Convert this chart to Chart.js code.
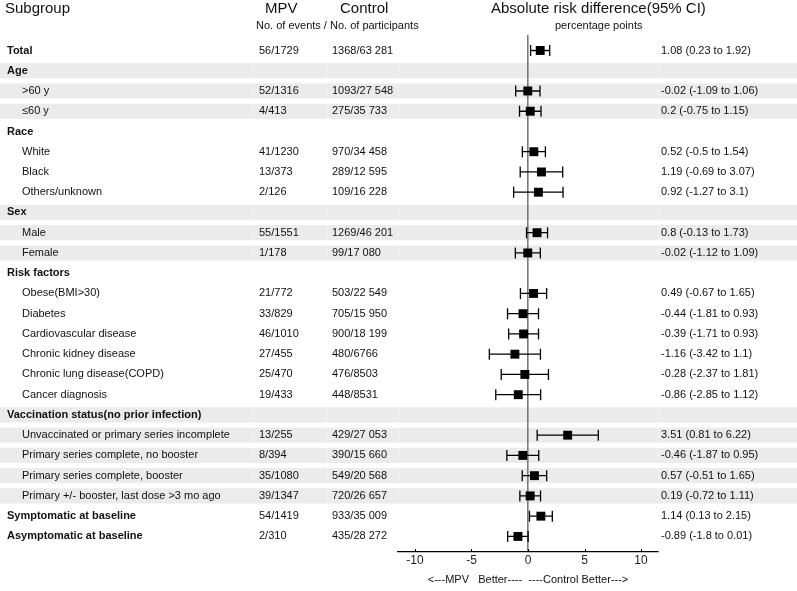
<!DOCTYPE html>
<html>
<head>
<meta charset="utf-8">
<script src="https://cdn.jsdelivr.net/npm/chart.js@4"></script>
<style>
  html, body { margin: 0; padding: 0; background: #fff; }
  canvas { display: block; }
</style>
</head>
<body>
<canvas id="forest" width="797" height="591"></canvas>
<script>
// rows, top to bottom
const subgroups = ['Total', 'Age', '>60 y', '≤60 y', 'Race', 'White', 'Black', 'Others/unknown',
  'Sex', 'Male', 'Female', 'Risk factors', 'Obese(BMI>30)', 'Diabetes', 'Cardiovascular disease',
  'Chronic kidney disease', 'Chronic lung disease(COPD)', 'Cancer diagnosis',
  'Vaccination status(no prior infection)', 'Unvaccinated or primary series incomplete',
  'Primary series complete, no booster', 'Primary series complete, booster',
  'Primary +/- booster, last dose >3 mo ago', 'Symptomatic at baseline', 'Asymptomatic at baseline'];
const boldRows = [0, 1, 4, 8, 11, 18, 23, 24];
const shadedRows = [1, 2, 3, 8, 9, 10, 18, 19, 20, 21, 22];
const mpvEvents = ['56/1729', '', '52/1316', '4/413', '', '41/1230', '13/373', '2/126', '', '55/1551', '1/178', '',
  '21/772', '33/829', '46/1010', '27/455', '25/470', '19/433', '', '13/255', '8/394', '35/1080', '39/1347', '54/1419', '2/310'];
const controlEvents = ['1368/63 281', '', '1093/27 548', '275/35 733', '', '970/34 458', '289/12 595', '109/16 228', '',
  '1269/46 201', '99/17 080', '', '503/22 549', '705/15 950', '900/18 199', '480/6766', '476/8503', '448/8531', '',
  '429/27 053', '390/15 660', '549/20 568', '720/26 657', '933/35 009', '435/28 272'];
const riskDiff = [1.08, null, -0.02, 0.2, null, 0.52, 1.19, 0.92, null, 0.8, -0.02, null,
  0.49, -0.44, -0.39, -1.16, -0.28, -0.86, null, 3.51, -0.46, 0.57, 0.19, 1.14, -0.89];
const ciLow = [0.23, null, -1.09, -0.75, null, -0.5, -0.69, -1.27, null, -0.13, -1.12, null,
  -0.67, -1.81, -1.71, -3.42, -2.37, -2.85, null, 0.81, -1.87, -0.51, -0.72, 0.13, -1.8];
const ciHigh = [1.92, null, 1.06, 1.15, null, 1.54, 3.07, 3.1, null, 1.73, 1.09, null,
  1.65, 0.93, 0.93, 1.1, 1.81, 1.12, null, 6.22, 0.95, 1.65, 1.11, 2.15, 0.01];
const xTicks = [-10, -5, 0, 5, 10];

const FONT = '"Liberation Sans", Arial, sans-serif';
const fmt = i => riskDiff[i] === null ? '' : riskDiff[i] + ' (' + ciLow[i] + ' to ' + ciHigh[i] + ')';

const points = [];
riskDiff.forEach((v, i) => { if (v !== null) points.push({ x: v, y: i }); });

// grey row bands behind everything
const bandPlugin = {
  id: 'bands',
  beforeDraw(chart) {
    const { ctx, scales: { y } } = chart;
    ctx.save();
    shadedRows.forEach(i => {
      const top = y.getPixelForValue(i - 0.375);
      const bot = y.getPixelForValue(i + 0.375);
      ctx.fillStyle = '#ebebeb';
      ctx.fillRect(0, top, chart.width, bot - top);
      ctx.fillStyle = 'rgba(255,255,255,0.35)';
      [253, 327, 398, 658].forEach(x => ctx.fillRect(x, top, 1, bot - top));
    });
    ctx.restore();
  }
};

// whiskers with caps
const ciPlugin = {
  id: 'ci',
  beforeDatasetsDraw(chart) {
    const { ctx, scales: { x, y } } = chart;
    ctx.save();
    ctx.strokeStyle = '#000';
    ctx.lineWidth = 1.3;
    riskDiff.forEach((v, i) => {
      if (v === null) return;
      const yy = y.getPixelForValue(i);
      const x1 = x.getPixelForValue(ciLow[i]);
      const x2 = x.getPixelForValue(ciHigh[i]);
      ctx.beginPath();
      ctx.moveTo(x1, yy); ctx.lineTo(x2, yy);
      ctx.moveTo(x1, yy - 5.5); ctx.lineTo(x1, yy + 5.5);
      ctx.moveTo(x2, yy - 5.5); ctx.lineTo(x2, yy + 5.5);
      ctx.stroke();
    });
    ctx.restore();
  }
};

// table text
const textPlugin = {
  id: 'table',
  afterDraw(chart) {
    const { ctx, scales: { x, y } } = chart;
    ctx.save();
    ctx.fillStyle = '#111';
    ctx.textBaseline = 'middle';
    ctx.textAlign = 'left';

    ctx.font = '15px ' + FONT;
    ctx.fillText('Subgroup', 5, 9);
    ctx.fillText('MPV', 265, 9);
    ctx.fillText('Control', 340, 9);
    ctx.fillText('Absolute risk difference(95% CI)', 491, 9);
    ctx.font = '11px ' + FONT;
    ctx.fillText('No. of events / No. of participants', 256, 26);
    ctx.fillText('percentage points', 555, 26);

    subgroups.forEach((label, i) => {
      const yy = y.getPixelForValue(i);
      const bold = boldRows.includes(i);
      ctx.font = (bold ? 'bold ' : '') + '11px ' + FONT;
      ctx.fillText(label, bold ? 7 : 22, yy);
      ctx.font = '11px ' + FONT;
      ctx.fillText(mpvEvents[i], 259, yy);
      ctx.fillText(controlEvents[i], 332, yy);
      ctx.fillText(fmt(i), 661, yy);
    });

    // small tick marks on the axis
    ctx.strokeStyle = '#000';
    ctx.lineWidth = 1;
    xTicks.forEach(t => {
      const px = Math.round(x.getPixelForValue(t)) + 0.5;
      ctx.beginPath();
      ctx.moveTo(px, chart.chartArea.bottom - 3);
      ctx.lineTo(px, chart.chartArea.bottom);
      ctx.stroke();
    });
    ctx.restore();
  }
};

new Chart(document.getElementById('forest'), {
  type: 'scatter',
  data: {
    datasets: [{
      data: points,
      pointStyle: 'rect',
      pointRadius: 6.3,
      pointHoverRadius: 6.3,
      backgroundColor: '#000',
      borderWidth: 0
    }]
  },
  options: {
    responsive: false,
    animation: false,
    events: [],
    layout: { padding: { left: 398, right: 139, top: 35, bottom: 0 } },
    plugins: { legend: { display: false }, tooltip: { enabled: false } },
    scales: {
      x: {
        type: 'linear',
        min: -11.5,
        max: 11.5,
        afterBuildTicks: s => { s.ticks = xTicks.map(v => ({ value: v })); },
        afterFit: s => { s.height = 39; },
        grid: {
          color: c => (c.tick && c.tick.value === 0) ? '#7a7a7a' : 'rgba(0,0,0,0)',
          lineWidth: 1.6,
          drawTicks: false
        },
        border: { display: true, color: '#000', width: 1.2 },
        ticks: { color: '#222', padding: 1, font: { family: FONT, size: 12 } },
        title: {
          display: true,
          text: '<---MPV   Better----  ----Control Better--->',
          color: '#111',
          font: { family: FONT, size: 11 },
          padding: { top: 2, bottom: 4 }
        }
      },
      y: {
        type: 'linear',
        reverse: true,
        min: -0.765,
        max: 24.77,
        display: false
      }
    }
  },
  plugins: [bandPlugin, ciPlugin, textPlugin]
});
</script>
</body>
</html>
